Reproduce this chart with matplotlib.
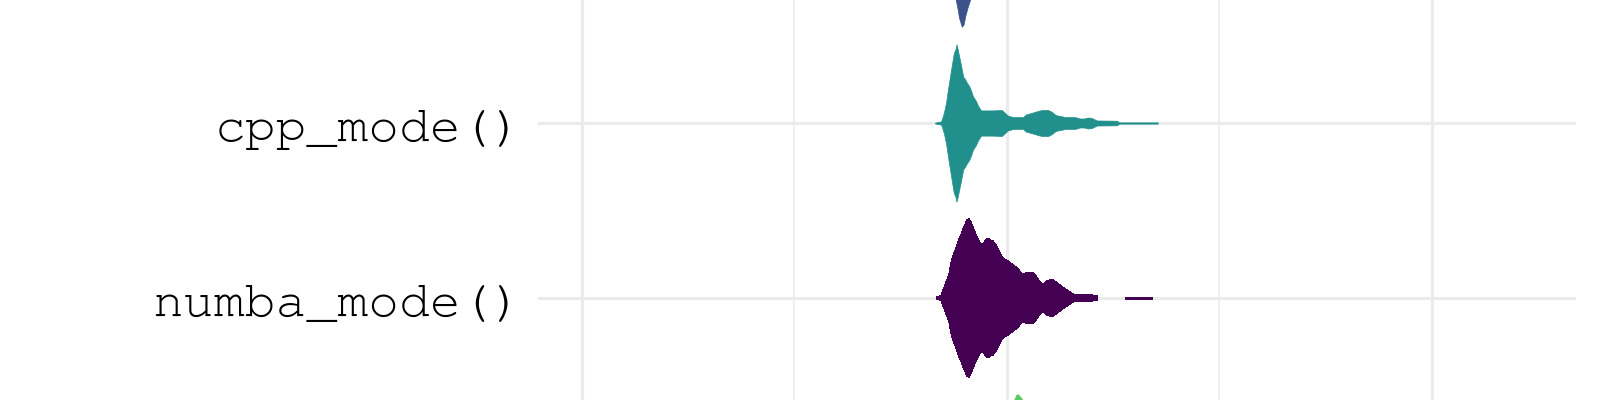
import numpy as np
import matplotlib
matplotlib.use("Agg")
import matplotlib.pyplot as plt
import matplotlib.transforms as mtransforms
from matplotlib import font_manager

# category labels (bottom to top) that fall inside the view
labels = ["numba_mode()", "cpp_mode()"]
label_pos = [0, 1]

# violin outlines: value grid and relative density (peak = 1)
numba_x = [83.5, 84.5, 84.9, 85.4, 85.9, 86.4, 86.8, 87.3, 88.0, 88.6, 89.2,
           89.6, 90.1, 90.6, 91.1, 91.5, 91.8, 92.2, 92.9, 93.4, 94.0, 94.6,
           95.2, 95.8, 96.2, 96.7, 97.4, 98.0, 98.6, 99.3, 100.2, 101.4,
           102.4, 103.5, 104.7, 106.1, 106.8, 107.5, 108.5, 109.6, 110.8,
           112.0, 113.2, 114.4, 115.5, 116.0, 120.0, 120.5, 121.2, 121.6,
           127.3, 127.8, 134.1, 134.4]
numba_d = [0.013, 0.025, 0.09, 0.15, 0.23, 0.30, 0.42, 0.53, 0.62, 0.73, 0.80,
           0.86, 0.92, 0.99, 1.00, 0.96, 0.92, 0.86, 0.78, 0.72, 0.67, 0.70,
           0.75, 0.75, 0.73, 0.72, 0.67, 0.61, 0.54, 0.49, 0.47, 0.42,
           0.38, 0.30, 0.32, 0.32, 0.28, 0.22, 0.165, 0.22, 0.23,
           0.18, 0.13, 0.09, 0.05, 0.038, 0.038, 0.025, 0.025, 0.0,
           0.0, 0.013, 0.013, 0.0]

cpp_x = [83.1, 84.5, 84.7, 85.2, 85.7, 86.1, 86.6, 87.1, 87.5, 87.9, 88.1,
         88.4, 88.7, 89.2, 89.7, 90.1, 90.6, 91.1, 91.5, 92.0, 92.7, 93.2,
         93.9, 96.5, 98.8, 99.5, 100.2, 101.4, 103.8, 104.5, 105.9, 107.1,
         108.2, 109.7, 110.6, 111.5, 112.5, 113.7, 116.0, 117.2, 118.1,
         119.1, 120.0, 120.7, 121.2, 125.9, 126.4, 135.5]
cpp_d = [0.006, 0.02, 0.05, 0.14, 0.27, 0.42, 0.59, 0.76, 0.89, 0.94, 1.00,
         0.94, 0.86, 0.73, 0.59, 0.56, 0.51, 0.47, 0.42, 0.34, 0.28, 0.22,
         0.16, 0.16, 0.165, 0.13, 0.095, 0.076, 0.076, 0.11, 0.13, 0.15,
         0.165, 0.165, 0.14, 0.10, 0.09, 0.076, 0.076, 0.057, 0.057,
         0.07, 0.063, 0.044, 0.032, 0.029, 0.008, 0.008]

# neighbours above and below, mostly outside the view
upper_x = [83.3, 84.7, 86.1, 87.3, 88.0, 88.4, 88.7, 89.2, 89.4, 89.8, 90.2,
           90.7, 91.3, 92.2, 93.6, 96.0, 100.7, 112.5, 121.9]
upper_d = [0.01, 0.1, 0.3, 0.55, 0.67, 0.78, 0.88, 0.97, 1.0, 0.97, 0.86,
           0.76, 0.66, 0.5, 0.35, 0.2, 0.1, 0.04, 0.01]

lower_x = [84.2, 88.9, 93.6, 97.2, 99.5, 100.9, 101.9, 102.1, 102.6, 102.9,
           103.4, 103.8, 104.9, 107.8, 112.5, 119.5, 131.3, 140.7]
lower_d = [0.01, 0.1, 0.3, 0.55, 0.75, 0.88, 0.95, 0.99, 1.0, 0.98,
           0.95, 0.91, 0.8, 0.55, 0.3, 0.12, 0.03, 0.005]

violins = [
    (numba_x, numba_d, 0, "#440154"),
    (cpp_x, cpp_d, 1, "#21908C"),
    (upper_x, upper_d, 2, "#3B528B"),
    (lower_x, lower_d, -1, "#5DC863"),
]

# pick a serif courier if one is around, else the metric clone
installed = {f.name for f in font_manager.fontManager.ttflist}
mono = "Liberation Mono"
for name in ["Courier New", "Nimbus Mono PS", "FreeMono", "Courier"]:
    if name in installed:
        mono = name
        break

fig = plt.figure(figsize=(16, 4), dpi=100)
ax = fig.add_axes([538 / 1600, 0, 1038 / 1600, 1])

for xs, ds, pos, col in violins:
    xs = np.array(xs)
    ds = np.array(ds) * 0.45
    ax.fill_between(xs, pos - ds, pos + ds, where=ds > 0, color=col,
                    edgecolor=col, linewidth=0.5, antialiased=False, zorder=3)

ax.set_xlim(-10.35, 233.9)
ax.set_ylim(-0.583, 1.703)
ax.set_xticks([0, 100, 200])
ax.set_xticks([50, 150], minor=True)
ax.set_yticks(label_pos)
ax.set_yticklabels(labels, fontfamily=mono, fontsize=37, color="black")
ax.tick_params(axis="y", length=0, pad=11)
ax.tick_params(axis="x", which="both", length=0, labelbottom=False)

# put the baseline a little under the grid line, like the original
shift = mtransforms.ScaledTranslation(0, -0.18, fig.dpi_scale_trans)
for lab in ax.get_yticklabels():
    lab.set_verticalalignment("baseline")
    lab.set_transform(lab.get_transform() + shift)

ax.grid(True, which="major", color="#EBEBEB", linewidth=2.2)
ax.grid(True, which="minor", axis="x", color="#EBEBEB", linewidth=1.1)
ax.set_axisbelow(True)
for s in ax.spines.values():
    s.set_visible(False)

fig.savefig("out.png", dpi=100)
